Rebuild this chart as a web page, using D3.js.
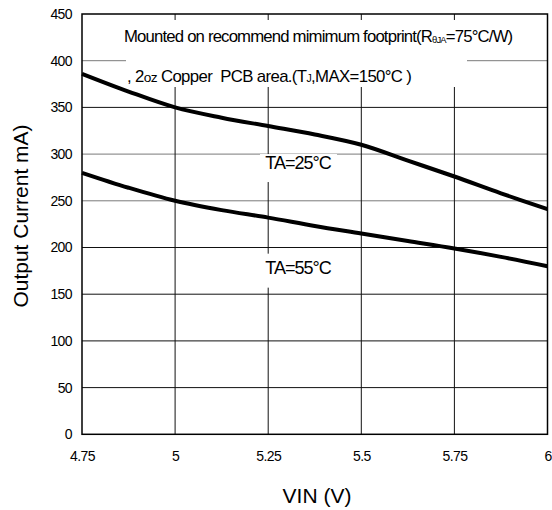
<!DOCTYPE html>
<html>
<head>
<meta charset="utf-8">
<script src="https://cdn.jsdelivr.net/npm/d3@7"></script>
<style>
  body { margin: 0; background: #fff; }
  text { font-family: Arial, "Liberation Sans", sans-serif; fill: #000; }
</style>
</head>
<body>
<svg></svg>
<script>
// curve data
const vin = [4.75, 4.875, 5, 5.125, 5.25, 5.375, 5.5, 5.625, 5.75, 5.875, 6]
const current25 = [386, 367, 350, 339, 330, 321, 310, 293, 276, 258, 241]
const current55 = [280, 264, 250, 240, 232, 223, 215, 207, 199, 190, 180]

const seriesNames = ["TA=25°C", "TA=55°C"]
const xTicks = [4.75, 5, 5.25, 5.5, 5.75, 6]
const yTicks = [0, 50, 100, 150, 200, 250, 300, 350, 400, 450]

let width = 552
let height = 510
let plotLeft = 82, plotRight = 547.5, plotTop = 14, plotBottom = 434.3

let svg = d3.select("svg").attr("width", width).attr("height", height)
svg.append("rect").attr("width", width).attr("height", height).attr("fill", "#fff")

let xScale = d3.scaleLinear().domain([4.75, 6]).range([plotLeft, plotRight])
let yScale = d3.scaleLinear().domain([0, 450]).range([plotBottom, plotTop])

// grid
const greyRows = [250, 300, 400]
svg.append("g").selectAll("line")
    .data(yTicks.filter(d => d > 0 && d < 450))
    .enter().append("line")
    .attr("x1", plotLeft).attr("x2", plotRight)
    .attr("y1", d => yScale(d)).attr("y2", d => yScale(d))
    .attr("stroke", d => greyRows.includes(d) ? "#7a7a7a" : "#111")
    .attr("stroke-width", 1)

svg.append("g").selectAll("line")
    .data(xTicks.slice(1, -1))
    .enter().append("line")
    .attr("x1", d => xScale(d)).attr("x2", d => xScale(d))
    .attr("y1", plotTop).attr("y2", plotBottom)
    .attr("stroke", "#111")
    .attr("stroke-width", 1)

// white box that breaks the grid behind the note
svg.append("rect").attr("x", 126).attr("y", 20).attr("width", 341).attr("height", 67).attr("fill", "#fff")

// labels for the curves
const labelSpots = [
    { name: seriesNames[0], x: 5.33, y: 284, gapTop: 15, gapBottom: 13 },
    { name: seriesNames[1], x: 5.33, y: 172, gapTop: 20, gapBottom: 14 }
]
labelSpots.forEach(l => {
    let cx = xScale(l.x), cy = yScale(l.y)
    svg.append("rect")
        .attr("x", cx - 38).attr("y", cy - l.gapTop)
        .attr("width", 77).attr("height", l.gapTop + l.gapBottom)
        .attr("fill", "#fff")
    svg.append("text")
        .attr("x", cx).attr("y", cy)
        .attr("text-anchor", "middle")
        .attr("font-size", 18)
        .attr("letter-spacing", -1)
        .text(l.name)
})

// curves
const line = d3.line()
    .x(d => xScale(d[0]))
    .y(d => yScale(d[1]))
    .curve(d3.curveCatmullRom.alpha(0.5))

const series = [d3.zip(vin, current25), d3.zip(vin, current55)]
svg.append("g").selectAll("path")
    .data(series)
    .enter().append("path")
    .attr("d", line)
    .attr("fill", "none")
    .attr("stroke", "#000")
    .attr("stroke-width", 4)

// frame
svg.append("rect")
    .attr("x", plotLeft).attr("y", plotTop)
    .attr("width", plotRight - plotLeft).attr("height", plotBottom - plotTop)
    .attr("fill", "none").attr("stroke", "#000").attr("stroke-width", 1.5)

// axes
let xAxis = d3.axisBottom(xScale).tickValues(xTicks).tickSize(0).tickPadding(17).tickFormat(d => String(d))
let yAxis = d3.axisLeft(yScale).tickValues(yTicks).tickSize(0).tickPadding(10)

let gx = svg.append("g").attr("transform", "translate(0," + plotBottom + ")").call(xAxis)
let gy = svg.append("g").attr("transform", "translate(" + plotLeft + ",0)").call(yAxis)
;[gx, gy].forEach(g => {
    g.select(".domain").remove()
    g.selectAll("text").attr("font-size", 14).attr("letter-spacing", -0.6)
        .attr("font-family", "Arial, 'Liberation Sans', sans-serif").attr("fill", "#000")
})

// axis titles
svg.append("text")
    .attr("x", 317).attr("y", 503)
    .attr("text-anchor", "middle")
    .attr("font-size", 21)
    .text("VIN (V)")

svg.append("text")
    .attr("transform", "translate(28,216) rotate(-90)")
    .attr("text-anchor", "middle")
    .attr("font-size", 21)
    .text("Output Current mA)")

// the note in the top of the plot
const fit = (sel, x, y, w) => {
    let bw = sel.node().getBBox().width
    sel.attr("transform", "translate(" + x + "," + y + ") scale(" + (w / bw) + ",1)")
}

let note1 = svg.append("text").attr("font-size", 16).attr("letter-spacing", -0.8)
note1.append("tspan").text("Mounted on recommend mimimum footprint(R")
note1.append("tspan").attr("font-size", 9).attr("dy", 1).text("θJA")
note1.append("tspan").attr("dy", -1).text("=75°C/W)")
fit(note1, 124, 42, 389)

let note2 = svg.append("text").attr("font-size", 16).attr("letter-spacing", -0.6).style("white-space", "pre")
note2.append("tspan").text(", 2")
note2.append("tspan").attr("font-size", 13).text("oz")
note2.append("tspan").text(" Copper  PCB area.(T")
note2.append("tspan").attr("font-size", 10).text("J")
note2.append("tspan").text(",MAX=150°C )")
fit(note2, 127, 81.5, 285)
</script>
</body>
</html>
